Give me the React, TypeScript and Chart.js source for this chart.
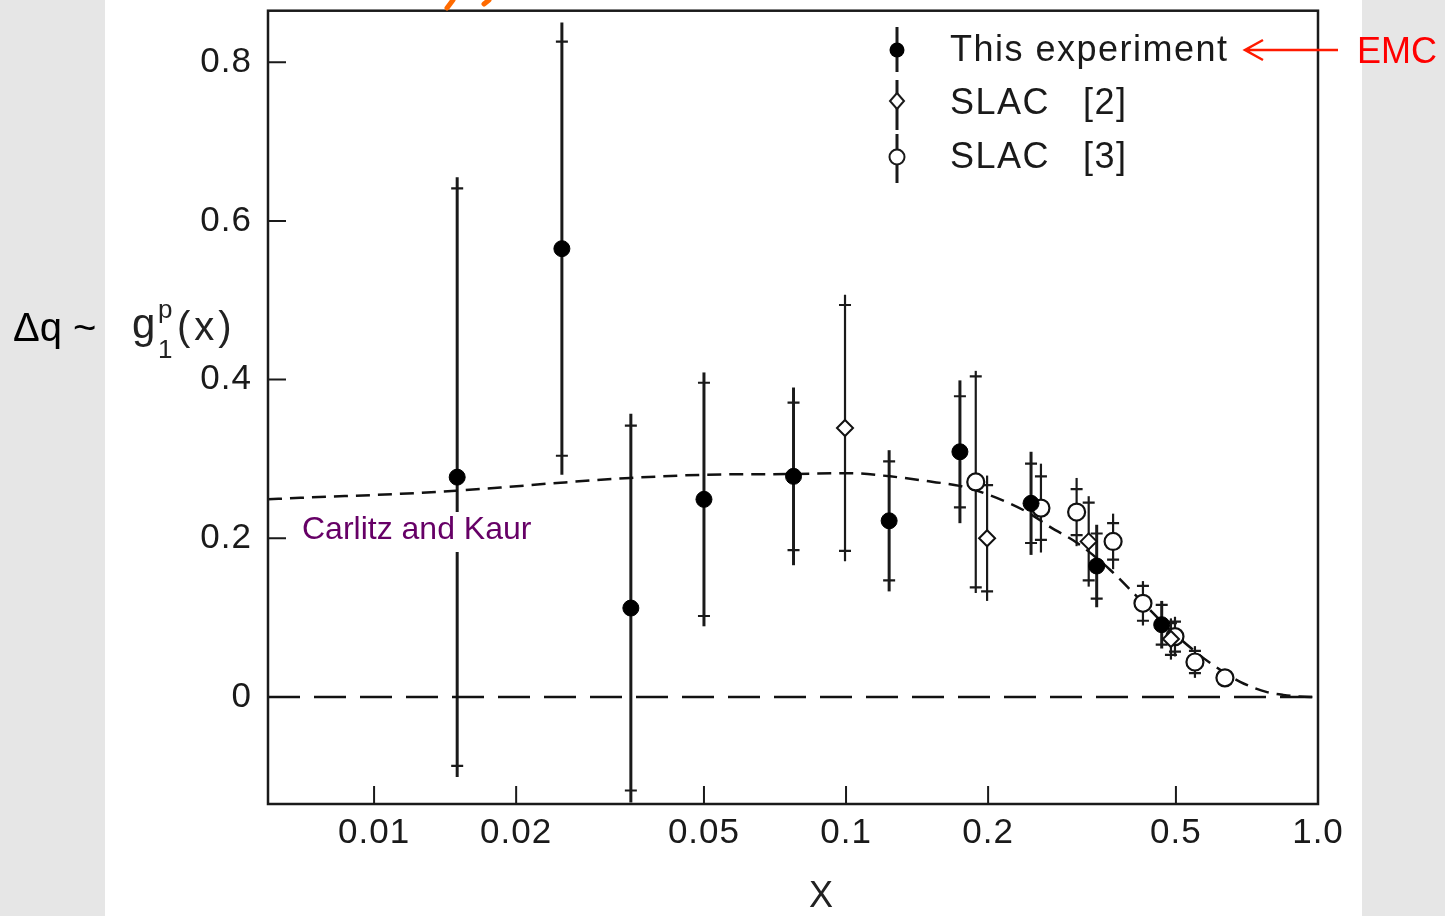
import React, { useEffect, useRef } from "react";
import { Chart, registerables } from "chart.js";

Chart.register(...registerables);

// ---------- axis ticks ----------
const xTickValues = [0.01, 0.02, 0.05, 0.1, 0.2, 0.5, 1.0];
const xTickLabels = ["0.01", "0.02", "0.05", "0.1", "0.2", "0.5", "1.0"];
const yTickValues = [0, 0.2, 0.4, 0.6, 0.8];
const yTickLabels = ["0", "0.2", "0.4", "0.6", "0.8"];

// ---------- This experiment (EMC) ----------
const emcX = [0.015, 0.025, 0.035, 0.05, 0.0774, 0.1234, 0.1743, 0.2466, 0.3397, 0.4665];
const emcY = [0.277, 0.565, 0.112, 0.249, 0.278, 0.222, 0.309, 0.244, 0.165, 0.091];
const emcStat = [0.364, 0.261, 0.23, 0.147, 0.093, 0.075, 0.07, 0.05, 0.041, 0.025];
const emcTot = [0.378, 0.285, 0.245, 0.16, 0.112, 0.089, 0.09, 0.065, 0.052, 0.03];

// ---------- SLAC [2] ----------
const slac2X = [0.0995, 0.199, 0.3267, 0.488];
const slac2Y = [0.339, 0.2, 0.196, 0.073];
const slac2Stat = [0.155, 0.067, 0.049, 0.02];
const slac2Tot = [0.168, 0.079, 0.057, 0.026];

// ---------- SLAC [3] ----------
const slac3X = [0.1883, 0.2588, 0.308, 0.368, 0.4257, 0.4977, 0.5486, 0.635];
const slac3Y = [0.271, 0.238, 0.233, 0.196, 0.118, 0.076, 0.044, 0.024];
const slac3Stat = [0.133, 0.04, 0.029, 0.023, 0.022, 0.019, 0.014, 0];
const slac3Tot = [0.14, 0.056, 0.043, 0.035, 0.028, 0.025, 0.02, 0];

// ---------- Carlitz and Kaur curve ----------
const curveX = [0.00596, 0.00698, 0.01138, 0.0149, 0.01854, 0.02483, 0.0349, 0.0499, 0.0774, 0.102, 0.124, 0.153, 0.174, 0.202, 0.242, 0.271, 0.309, 0.363, 0.414, 0.479, 0.555, 0.6, 0.684, 0.78, 0.844, 0.962, 1.0];
const curveY = [0.249, 0.251, 0.256, 0.26, 0.264, 0.27, 0.276, 0.28, 0.281, 0.282, 0.278, 0.271, 0.266, 0.254, 0.233, 0.214, 0.194, 0.16, 0.126, 0.088, 0.055, 0.04, 0.019, 0.006, 0.0025, 0.0, 0.0];

// ---------- zero line ----------
const zeroX = [0.00596, 1.0];
const zeroY = [0, 0];

const FONT = '"Liberation Sans", Arial, sans-serif';
const INK = "#1a1a1a";

function pts(xs: number[], ys: number[]) {
  return xs.map((x, i) => ({ x, y: ys[i] }));
}

const errorSets = [
  { xs: emcX, ys: emcY, stat: emcStat, tot: emcTot, lw: 3 },
  { xs: slac2X, ys: slac2Y, stat: slac2Stat, tot: slac2Tot, lw: 2.2 },
  { xs: slac3X, ys: slac3Y, stat: slac3Stat, tot: slac3Tot, lw: 2.2 },
];

const overlayPlugin = {
  id: "overlay",
  beforeDraw(chart: any) {
    chart.ctx.letterSpacing = "1px";
  },
  beforeDatasetsDraw(chart: any) {
    const { ctx, scales } = chart;
    const xs = scales.x;
    const ys = scales.y;
    ctx.save();
    ctx.letterSpacing = "0px";
    ctx.strokeStyle = INK;
    for (const s of errorSets) {
      s.xs.forEach((xv: number, i: number) => {
        if (s.tot[i] <= 0) return;
        const px = xs.getPixelForValue(xv);
        const yTop = ys.getPixelForValue(s.ys[i] + s.tot[i]);
        const yBot = ys.getPixelForValue(s.ys[i] - s.tot[i]);
        ctx.lineWidth = s.lw;
        ctx.beginPath();
        ctx.moveTo(px, yTop);
        ctx.lineTo(px, yBot);
        ctx.stroke();
        const sT = ys.getPixelForValue(s.ys[i] + s.stat[i]);
        const sB = ys.getPixelForValue(s.ys[i] - s.stat[i]);
        ctx.lineWidth = 2.2;
        ctx.beginPath();
        ctx.moveTo(px - 6, sT);
        ctx.lineTo(px + 6, sT);
        ctx.moveTo(px - 6, sB);
        ctx.lineTo(px + 6, sB);
        ctx.stroke();
      });
    }
    ctx.restore();
  },
  afterDatasetsDraw(chart: any) {
    const { ctx, chartArea, scales } = chart;
    const xs = scales.x;
    const ys = scales.y;
    const { left, right, top, bottom } = chartArea;
    ctx.save();
    ctx.letterSpacing = "0px";

    // frame
    ctx.strokeStyle = INK;
    ctx.lineWidth = 2.5;
    ctx.strokeRect(left, top, right - left, bottom - top);

    // inward ticks
    ctx.lineWidth = 2;
    ctx.beginPath();
    xTickValues.forEach((v) => {
      if (v >= 1) return;
      const px = xs.getPixelForValue(v);
      ctx.moveTo(px, bottom);
      ctx.lineTo(px, bottom - 18);
    });
    yTickValues.forEach((v) => {
      if (v === 0) return;
      const py = ys.getPixelForValue(v);
      ctx.moveTo(left, py);
      ctx.lineTo(left + 18, py);
    });
    ctx.stroke();

    // Carlitz and Kaur label
    ctx.fillStyle = "#ffffff";
    ctx.fillRect(296, 512, 240, 40);
    ctx.fillStyle = "#660066";
    ctx.font = `32px ${FONT}`;
    ctx.textBaseline = "middle";
    ctx.textAlign = "left";
    ctx.fillText("Carlitz and Kaur", 302, 530);

    // legend
    const lx = 897;
    ctx.strokeStyle = INK;
    ctx.lineWidth = 3;
    ctx.beginPath();
    ctx.moveTo(lx, 27); ctx.lineTo(lx, 72);
    ctx.moveTo(lx, 80); ctx.lineTo(lx, 130);
    ctx.moveTo(lx, 134); ctx.lineTo(lx, 183);
    ctx.stroke();
    ctx.fillStyle = "#000";
    ctx.beginPath();
    ctx.arc(lx, 50, 7.5, 0, Math.PI * 2);
    ctx.fill();
    ctx.fillStyle = "#fff";
    ctx.lineWidth = 2;
    ctx.beginPath();
    ctx.moveTo(lx, 93); ctx.lineTo(lx + 7, 101); ctx.lineTo(lx, 109); ctx.lineTo(lx - 7, 101); ctx.closePath();
    ctx.fill(); ctx.stroke();
    ctx.beginPath();
    ctx.arc(lx, 157, 7.5, 0, Math.PI * 2);
    ctx.fill(); ctx.stroke();

    ctx.fillStyle = INK;
    ctx.font = `36px ${FONT}`;
    ctx.letterSpacing = "1.5px";
    ctx.fillText("This experiment", 950, 51);
    ctx.fillText("SLAC", 950, 104);
    ctx.fillText("[2]", 1083, 104);
    ctx.fillText("SLAC", 950, 158);
    ctx.fillText("[3]", 1083, 158);

    // y axis title g1p(x)
    ctx.textBaseline = "alphabetic";
    ctx.fillStyle = "#222";
    ctx.letterSpacing = "0px";
    ctx.font = `42px ${FONT}`;
    ctx.fillText("g", 132, 338);
    ctx.font = `26px ${FONT}`;
    ctx.fillText("p", 158, 318);
    ctx.fillText("1", 158, 358);
    ctx.font = `40px ${FONT}`;
    ctx.letterSpacing = "4px";
    ctx.fillText("(x)", 177, 340);

    // x axis title
    ctx.letterSpacing = "0px";
    ctx.textAlign = "center";
    ctx.textBaseline = "middle";
    ctx.font = `36px "Liberation Sans Narrow", ${FONT}`;
    ctx.fillText("X", 821, 897);

    // Δq ~
    ctx.textAlign = "left";
    ctx.fillStyle = "#000";
    ctx.font = `40px ${FONT}`;
    ctx.fillText("\u0394q ~", 13, 330);

    // EMC annotation + arrow
    ctx.fillStyle = "#ff0000";
    ctx.font = `36px ${FONT}`;
    ctx.fillText("EMC", 1357, 53);
    ctx.strokeStyle = "#ff1a00";
    ctx.lineWidth = 2.5;
    ctx.beginPath();
    ctx.moveTo(1338, 50);
    ctx.lineTo(1245, 50);
    ctx.moveTo(1263, 40);
    ctx.lineTo(1245, 50);
    ctx.lineTo(1263, 60);
    ctx.stroke();

    // clipped orange title remnants
    ctx.strokeStyle = "#ff6a00";
    ctx.lineWidth = 5;
    ctx.lineCap = "round";
    ctx.beginPath();
    ctx.moveTo(453, 0); ctx.lineTo(447, 8);
    ctx.moveTo(489, 0); ctx.lineTo(484, 4);
    ctx.stroke();

    ctx.restore();
  },
};

export default function App() {
  const ref = useRef<HTMLCanvasElement>(null);

  useEffect(() => {
    const canvas = ref.current;
    if (!canvas) return;
    const tickFont = { family: FONT, size: 35 };
    const chart = new Chart(canvas, {
      type: "scatter",
      data: {
        datasets: [
          {
            label: "This experiment",
            data: pts(emcX, emcY),
            pointStyle: "circle",
            pointRadius: 8,
            backgroundColor: "#000",
            borderColor: "#000",
            showLine: false,
          },
          {
            label: "SLAC [2]",
            data: pts(slac2X, slac2Y),
            pointStyle: "rectRot",
            pointRadius: 8,
            backgroundColor: "#fff",
            borderColor: "#111",
            pointBorderWidth: 2,
            showLine: false,
          },
          {
            label: "SLAC [3]",
            data: pts(slac3X, slac3Y),
            pointStyle: "circle",
            pointRadius: 8.5,
            backgroundColor: "#fff",
            borderColor: "#111",
            pointBorderWidth: 2.2,
            showLine: false,
          },
          {
            label: "Carlitz and Kaur",
            data: pts(curveX, curveY),
            showLine: true,
            borderColor: "#111",
            borderWidth: 2.5,
            borderDash: [14, 8],
            pointRadius: 0,
            cubicInterpolationMode: "monotone",
          },
          {
            label: "zero",
            data: pts(zeroX, zeroY),
            showLine: true,
            borderColor: "#111",
            borderWidth: 2.5,
            borderDash: [32, 14],
            pointRadius: 0,
          },
        ],
      } as any,
      options: {
        responsive: false,
        devicePixelRatio: 1,
        animation: false,
        events: [],
        layout: { padding: { left: 0, right: 127, top: 10, bottom: 0 } },
        plugins: { legend: { display: false }, tooltip: { enabled: false } },
        scales: {
          x: {
            type: "logarithmic",
            min: 0.00596,
            max: 1.0,
            afterBuildTicks: (s: any) => {
              s.ticks = xTickValues.map((v) => ({ value: v }));
            },
            afterFit: (s: any) => {
              s.height = 112;
              s.paddingLeft = 0;
              s.paddingRight = 0;
              s.paddingTop = 0;
              s.paddingBottom = 0;
            },
            grid: { display: false, drawTicks: false },
            border: { display: false },
            ticks: {
              autoSkip: false,
              maxRotation: 0,
              padding: 8,
              color: INK,
              font: tickFont,
              callback: (_v: any, i: number) => xTickLabels[i],
            },
          },
          y: {
            type: "linear",
            min: -0.135,
            max: 0.865,
            afterBuildTicks: (s: any) => {
              s.ticks = yTickValues.map((v) => ({ value: v }));
            },
            afterFit: (s: any) => {
              s.width = 268;
              s.paddingLeft = 0;
              s.paddingRight = 0;
              s.paddingTop = 0;
              s.paddingBottom = 0;
            },
            grid: { display: false, drawTicks: false },
            border: { display: false },
            ticks: {
              autoSkip: false,
              padding: 16,
              color: INK,
              font: tickFont,
              callback: (_v: any, i: number) => yTickLabels[i],
            },
          },
        },
      } as any,
      plugins: [overlayPlugin],
    });
    return () => chart.destroy();
  }, []);

  return (
    <div
      style={{
        position: "absolute",
        left: 0,
        top: 0,
        width: 1445,
        height: 916,
        background: "#e6e6e6",
        overflow: "hidden",
      }}
    >
      <div
        style={{
          position: "absolute",
          left: 105,
          top: 0,
          width: 1257,
          height: 916,
          background: "#ffffff",
        }}
      />
      <canvas
        ref={ref}
        width={1445}
        height={916}
        style={{ position: "absolute", left: 0, top: 0, width: 1445, height: 916 }}
      />
    </div>
  );
}
